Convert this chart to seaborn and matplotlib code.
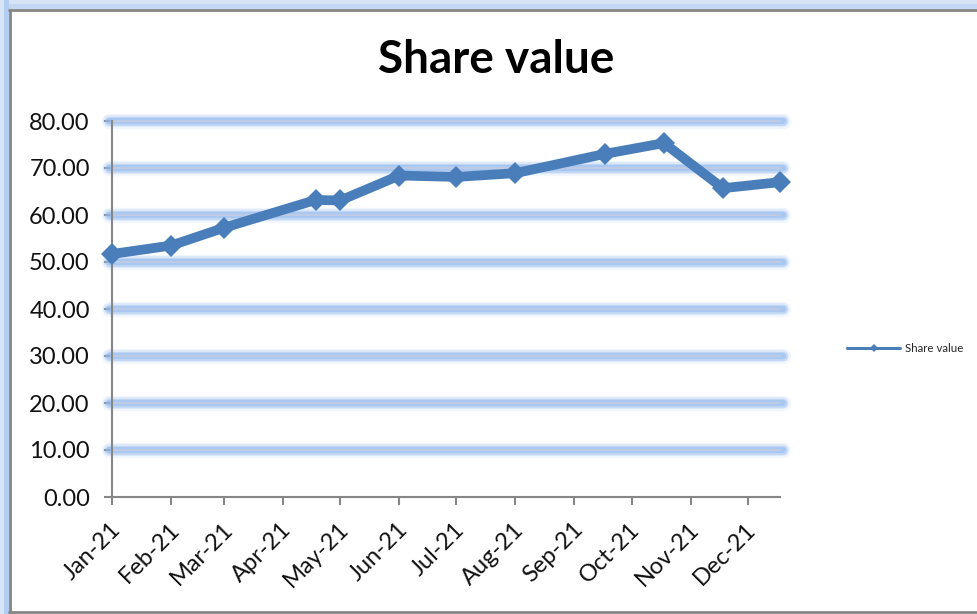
import matplotlib
matplotlib.use('Agg')
import matplotlib.pyplot as plt
import matplotlib.dates as mdates
import matplotlib.ticker as mticker
import matplotlib.transforms as mtransforms
import seaborn as sns
import pandas as pd
from matplotlib.lines import Line2D
from matplotlib.patches import Rectangle

# ---- data ----
dates = ['2021-01-01', '2021-02-01', '2021-03-01', '2021-04-18', '2021-05-01',
         '2021-06-01', '2021-07-01', '2021-08-01', '2021-09-17', '2021-10-18',
         '2021-11-18', '2021-12-18']
share_values = [51.7, 53.5, 57.3, 63.2, 63.1, 68.4, 68.1, 68.9, 73.0, 75.3, 65.7, 67.0]
y_ticks = [0, 10, 20, 30, 40, 50, 60, 70, 80]
series_name = 'Share value'
chart_title = 'Share value'

sns.set_theme(style='white')
plt.rcParams['font.family'] = ['Lato', 'DejaVu Sans']

W, H = 978, 614
fig = plt.figure(figsize=(W / 100, H / 100), dpi=100)
fig.patch.set_facecolor('white')

# chart frame (Excel-like) with soft blue glow on top/left
fig.patches.append(Rectangle((0, 1 - 9 / H), 1, 9 / H, transform=fig.transFigure,
                             facecolor='#c3d8f3', edgecolor='none', zorder=0))
fig.patches.append(Rectangle((0, 1 - 4 / H), 1, 4 / H, transform=fig.transFigure,
                             facecolor='#d6e4f6', edgecolor='none', zorder=0))
fig.patches.append(Rectangle((0, 0), 9 / W, 1, transform=fig.transFigure,
                             facecolor='#b3cdf0', edgecolor='none', zorder=0))
fig.patches.append(Rectangle((0, 0), 4 / W, 1, transform=fig.transFigure,
                             facecolor='#d6e4f6', edgecolor='none', zorder=0))
fig.add_artist(Line2D([9 / W, 1], [1 - 10 / H, 1 - 10 / H], transform=fig.transFigure,
                      color='#858585', lw=2))
fig.add_artist(Line2D([10 / W, 10 / W], [1 - 10 / H, 1 - 612 / H], transform=fig.transFigure,
                      color='#858585', lw=2))
fig.add_artist(Line2D([9 / W, 1], [1 - 612 / H, 1 - 612 / H], transform=fig.transFigure,
                      color='#858585', lw=2))

ax = fig.add_axes([112 / W, 1 - 497 / H, (780 - 112) / W, (497 - 121) / H])
ax.set_facecolor('none')

df = pd.DataFrame({'date': pd.to_datetime(dates), 'value': share_values})
line_color = '#4a7ebb'

# glowing gridlines
for y in y_ticks[1:]:
    for lw, a in [(11, 0.12), (8.5, 0.2), (6.5, 0.33), (4.5, 0.5)]:
        ax.axhline(y, xmin=-0.005, xmax=1.005, color='#8fb8ee', lw=lw, alpha=a,
                   clip_on=False, zorder=1, solid_capstyle='round')
    ax.axhline(y, xmin=-0.002, xmax=1.0, color='#c2cbe4', lw=1.3, clip_on=False, zorder=1.5)

sns.lineplot(data=df, x='date', y='value', ax=ax, color=line_color, lw=7,
             marker='D', markersize=11.5, markeredgewidth=0, markeredgecolor=line_color,
             legend=False, zorder=5, clip_on=False)

ax.set_xlim(df['date'].iloc[0], df['date'].iloc[-1])
ax.set_ylim(0, 80)
ax.set_yticks(y_ticks)
ax.yaxis.set_major_formatter(mticker.FormatStrFormatter('%.2f'))
ax.xaxis.set_major_locator(mdates.MonthLocator())
ax.xaxis.set_major_formatter(mdates.DateFormatter('%b-%y'))
ax.set_xlabel('')
ax.set_ylabel('')

for s in ['top', 'right']:
    ax.spines[s].set_visible(False)
for s in ['left', 'bottom']:
    ax.spines[s].set_color('#868686')
    ax.spines[s].set_linewidth(1.5)
    ax.spines[s].set_zorder(2)

ax.tick_params(axis='both', which='major', direction='out', length=6, width=1.5,
               color='#868686', labelsize=17, labelcolor='#111111', left=True, bottom=True)
ax.tick_params(axis='y', pad=10)
ax.tick_params(axis='x', pad=15)
shift = mtransforms.ScaledTranslation(5 / 100, 0, fig.dpi_scale_trans)
for lbl in ax.get_xticklabels():
    lbl.set_rotation(45)
    lbl.set_ha('right')
    lbl.set_va('center')
    lbl.set_rotation_mode('anchor')
    lbl.set_transform(lbl.get_transform() + shift)

fig.text(496 / W, 1 - 60 / H, chart_title, ha='center', va='center',
         fontsize=33, fontweight='bold', color='black')

handle = Line2D([0], [0], color=line_color, lw=2.2, marker='D', markersize=3.8,
                markeredgewidth=0)
fig.legend(handles=[handle], labels=[series_name], loc='center left',
           bbox_to_anchor=(847 / W, 1 - 349 / H), frameon=False, fontsize=8.3,
           handlelength=4.6, handletextpad=0.45, borderpad=0, borderaxespad=0)

fig.savefig('out.png', dpi=100)
